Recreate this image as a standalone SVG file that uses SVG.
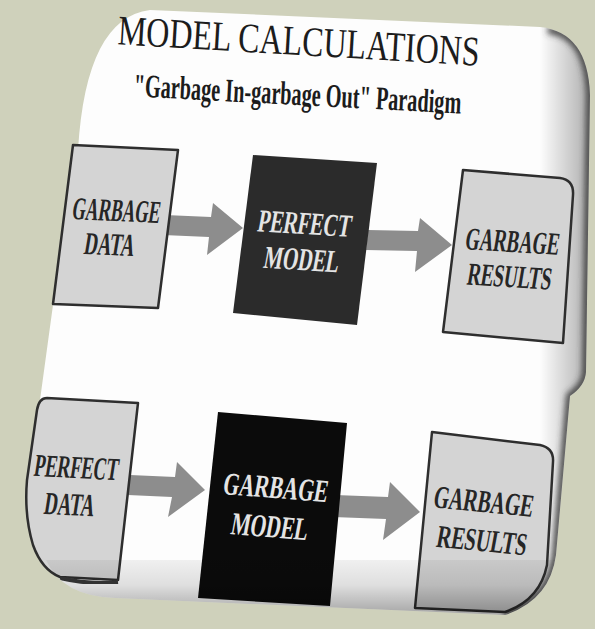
<svg xmlns="http://www.w3.org/2000/svg" width="595" height="629" viewBox="0 0 595 629">
<style>
.lbl{font-family:"Liberation Serif","Times New Roman",serif;font-size:32px;font-weight:bold;text-anchor:middle}
.dk{fill:#262626}
.lt{fill:#e4e4e4}
.gbox{fill:#d4d4d4;stroke:#2e2e2e;stroke-width:2.5;stroke-linejoin:round}
.arrow{fill:#8d8d8d}
</style>
<defs>
<filter id="blur3" x="-20%" y="-20%" width="140%" height="140%"><feGaussianBlur stdDeviation="3"/></filter>
<filter id="blur1"><feGaussianBlur stdDeviation="0.6"/></filter>
<linearGradient id="bottomShade" x1="0" y1="540" x2="0" y2="615" gradientUnits="userSpaceOnUse">
<stop offset="0" stop-color="#000" stop-opacity="0"/>
<stop offset="0.6" stop-color="#000" stop-opacity="0.12"/>
<stop offset="1" stop-color="#000" stop-opacity="0.35"/>
</linearGradient>
<linearGradient id="rightShade" x1="540" y1="0" x2="595" y2="0" gradientUnits="userSpaceOnUse">
<stop offset="0" stop-color="#000" stop-opacity="0"/>
<stop offset="1" stop-color="#000" stop-opacity="0.35"/>
</linearGradient>
<clipPath id="cardClip"><path d="M150,10 L540,27 Q588,32 590,95 L586,372 Q585,386 570,396 L556,555 Q550,600 505,615 L115,598 Q62,596 46,560 Q26,522 30,470 L40,400 L53,305 L78,150 Q86,18 150,10 Z"/></clipPath>
</defs>
<rect width="595" height="629" fill="#cfd1bb"/>
<g id="card">
<path d="M150,10 L540,27 Q588,32 590,95 L586,372 Q585,386 570,396 L556,555 Q550,600 505,615 L115,598 Q62,596 46,560 Q26,522 30,470 L40,400 L53,305 L78,150 Q86,18 150,10 Z" fill="#fdfdfd"/>
<g clip-path="url(#cardClip)">
<rect x="530" y="0" width="65" height="629" fill="url(#rightShade)"/>
<path d="M548,30 Q588,34 590,95 L586,372 Q585,386 570,396 L556,555 Q550,600 505,615" fill="none" stroke="#3a3a3a" stroke-width="7" filter="url(#blur3)"/>
</g>
</g>
<g id="title">
<text x="0" y="0" transform="translate(298,55) rotate(3.4) scale(0.762,1)" font-family="'Liberation Serif','Times New Roman',serif" font-size="42" fill="#1c1c1c" text-anchor="middle">MODEL CALCULATIONS</text>
<text x="0" y="0" transform="translate(297,105) rotate(3) scale(0.614,1)" font-family="'Liberation Serif','Times New Roman',serif" font-size="33" font-weight="bold" fill="#1c1c1c" text-anchor="middle">"Garbage In-garbage Out" Paradigm</text>
</g>
<g id="connectors">
<polygon class="arrow" points="165,215 211,217 213,203 243,228 207,255 209,237 163,235"/>
<polygon class="arrow" points="368,230 418,231 420,218 452,245 415,272 417,251 366,250"/>
<polygon class="arrow" points="130,475 175,477 177,462 205,490 168,517 172,497 128,495"/>
<polygon class="arrow" points="335,495 388,497 390,482 420,512 383,540 386,519 333,517"/>
</g>
<g id="n1">
<polygon class="gbox" points="73,145 178,150 158,308 53,304"/>
<text class="lbl dk" transform="translate(115,221) rotate(2.5) skewX(-7) scale(0.544,1)">GARBAGE</text>
<text class="lbl dk" transform="translate(108,255) rotate(2.5) skewX(-7) scale(0.584,1)">DATA</text>
</g>
<g id="n2">
<polygon points="253,155 377,163 357,325 233,313" fill="#2b2b2b"/>
<text class="lbl lt" transform="translate(303,234) rotate(3.5) skewX(-7) scale(0.623,1)">PERFECT</text>
<text class="lbl lt" transform="translate(300,270) rotate(3.5) skewX(-7) scale(0.62,1)">MODEL</text>
</g>
<g id="n3">
<path class="gbox" d="M463,170 L560,178 Q574,180 573,195 L563,343 L443,332 Z"/>
<text class="lbl dk" transform="translate(511,252) rotate(3.5) skewX(-6) scale(0.581,1)">GARBAGE</text>
<text class="lbl dk" transform="translate(508,287) rotate(3.5) skewX(-6) scale(0.59,1)">RESULTS</text>
</g>
<g id="n4">
<path class="gbox" d="M47,398 L138,403 L118,580 L60,577 Q42,570 33,545 Q24,515 27,480 L37,410 Q39,398 47,398 Z"/>
<text class="lbl dk" transform="translate(75,478) rotate(3) skewX(-6) scale(0.563,1)">PERFECT</text>
<text class="lbl dk" transform="translate(68,515) rotate(3) skewX(-6) scale(0.584,1)">DATA</text>
</g>
<g id="n5">
<polygon points="218,412 347,423 330,606 198,598" fill="#0b0b0b"/>
<text class="lbl lt" transform="translate(274,498) rotate(4.5) skewX(-6) scale(0.649,1)">GARBAGE</text>
<text class="lbl lt" transform="translate(268,537) rotate(4.5) skewX(-6) scale(0.637,1)">MODEL</text>
</g>
<g id="n6">
<path class="gbox" d="M432,432 L540,445 Q554,448 553,462 L547,565 Q540,600 505,612 L415,608 Z"/>
<text class="lbl dk" transform="translate(482,512) rotate(5.5) skewX(-5) scale(0.618,1)">GARBAGE</text>
<text class="lbl dk" transform="translate(480,551) rotate(5.5) skewX(-5) scale(0.631,1)">RESULTS</text>
</g>
<g id="shading" clip-path="url(#cardClip)">
<rect x="0" y="560" width="595" height="69" fill="url(#bottomShade)"/>
<path d="M60,578 Q90,585 118,582" fill="none" stroke="#333" stroke-width="4" filter="url(#blur1)"/>
</g>
</svg>
